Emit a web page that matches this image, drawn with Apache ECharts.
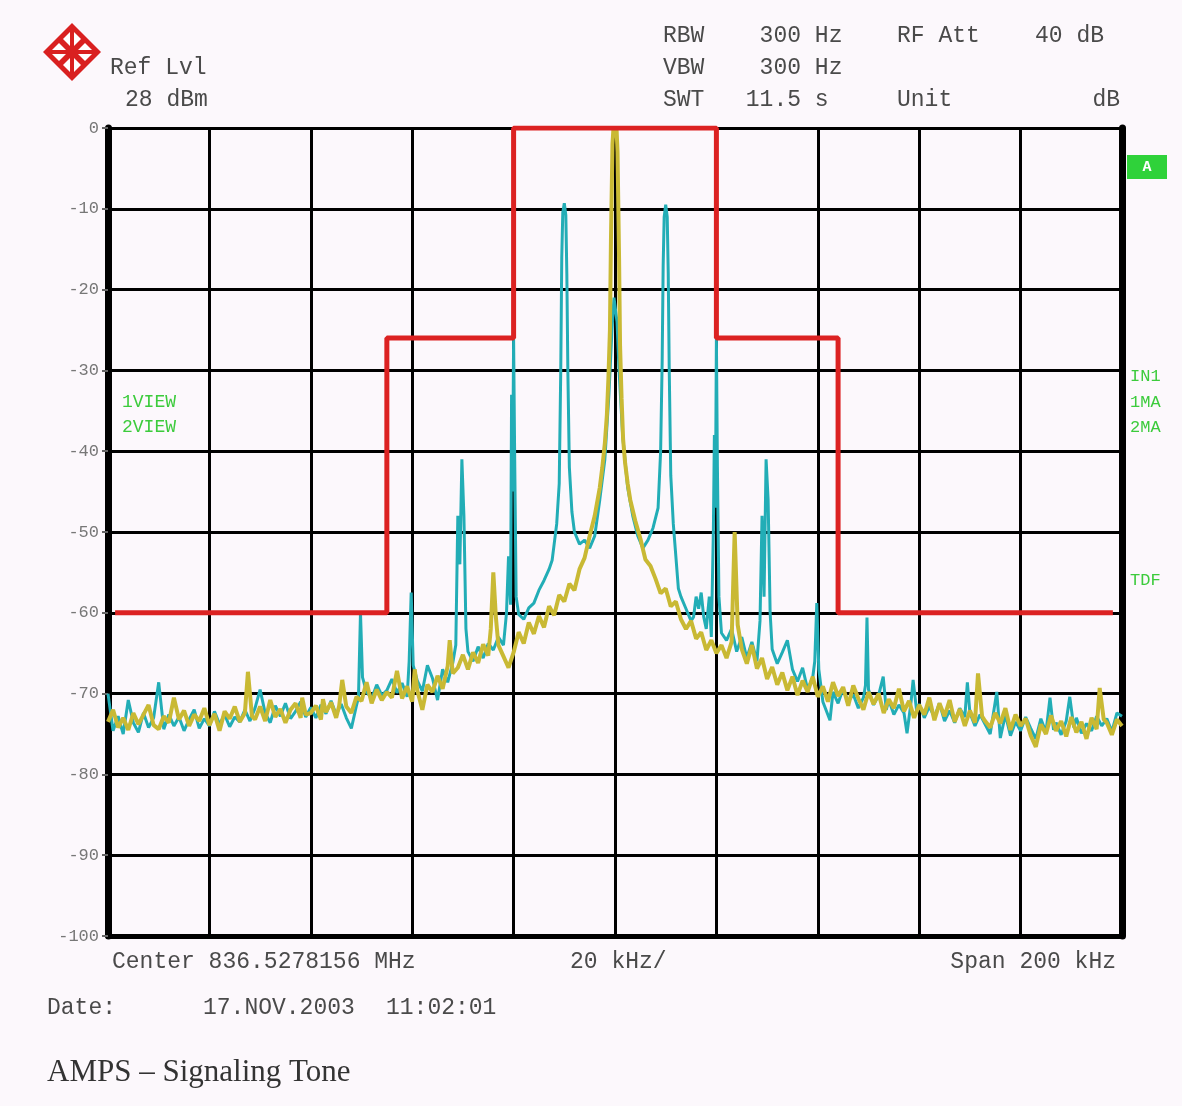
<!DOCTYPE html>
<html>
<head>
<meta charset="utf-8">
<title>AMPS – Signaling Tone</title>
<script src="https://cdn.jsdelivr.net/npm/echarts@6/dist/echarts.min.js"></script>
<style>
  html, body { margin: 0; padding: 0; background: #fcf8fc; }
  #chart { width: 1182px; height: 1106px; }
</style>
</head>
<body>
<div id="chart"></div>
<script>
// Frequency offset from center (kHz) vs. level (dB)

// Spectrum emission mask
const limitLine = [
  [-98.6, -60], [-45, -60], [-45, -26], [-20, -26], [-20, 0],
  [20, 0], [20, -26], [44, -26], [44, -60], [98.2, -60]
];

// Trace 1 (1VIEW)
const trace1 = [
  [-100,-70.0],[-99,-74.6],[-98,-72.8],[-97,-75.0],[-96,-70.8],[-95,-73.6],[-94,-74.8],[-93,-72.4],[-92,-74.2],[-91,-73.0],
  [-90,-68.6],[-89,-74.4],[-88,-72.6],[-87,-74.0],[-86,-72.9],[-85,-74.6],[-84,-73.2],[-83,-72.0],[-82,-74.3],[-81,-73.1],
  [-80,-74.0],[-79,-72.2],[-78,-73.8],[-77,-72.6],[-76,-74.1],[-75,-72.9],[-74,-73.5],[-73,-72.0],[-72,-73.4],[-71,-71.8],
  [-70,-69.5],[-69,-72.4],[-68,-73.6],[-67,-71.5],[-66,-72.8],[-65,-71.2],[-64,-73.1],[-63,-72.2],[-62,-71.0],[-61,-72.9],
  [-60,-71.7],[-59,-73.0],[-58,-71.4],[-57,-72.5],[-56,-70.9],[-55,-72.6],[-54,-71.3],[-53,-73.0],[-52,-74.3],[-51,-71.5],
  [-50.6,-70.5],[-50.2,-60.0],[-49.8,-68.0],[-49,-69.8],[-48,-70.6],[-47,-68.9],[-46,-70.2],[-45,-69.6],[-44,-68.2],[-43,-69.9],
  [-42,-68.7],[-41,-70.4],[-40.6,-66.0],[-40.2,-57.5],[-39.8,-66.5],[-39,-68.4],[-38,-69.7],[-37,-66.5],[-36,-68.1],[-35,-70.8],
  [-34,-67.0],[-33,-68.6],[-32,-66.2],[-31.4,-64.0],[-31.0,-48.0],[-30.6,-54.0],[-30.2,-41.0],[-29.8,-48.0],[-29.4,-62.0],[-29,-64.8],
  [-28,-66.0],[-27,-64.2],[-26,-65.6],[-25,-63.8],[-24,-64.6],[-23,-63.0],[-22,-64.0],[-21.4,-60.0],[-21.0,-53.0],[-20.6,-59.0],
  [-20.4,-33.0],[-20.2,-45.0],[-20.0,-26.0],[-19.8,-40.0],[-19.5,-58.0],[-19,-60.2],[-18,-60.8],[-17,-59.4],[-16,-58.8],[-15,-57.2],
  [-14,-56.0],[-13,-54.6],[-12.4,-53.5],[-12,-51.5],[-11.5,-49.0],[-11,-44.0],[-10.7,-30.0],[-10.5,-16.0],[-10.3,-10.5],[-10.0,-9.3],
  [-9.7,-10.8],[-9.5,-18.0],[-9.3,-30.0],[-9.0,-42.0],[-8.5,-47.5],[-8,-50.0],[-7,-51.5],[-6,-51.0],[-5,-52.0],[-4,-50.5],
  [-3,-46.0],[-2,-41.0],[-1.2,-33.0],[-0.6,-25.0],[-0.2,-21.0],[0,-21.0],[0.4,-24.0],[0.8,-30.0],[1.5,-38.0],[2.5,-44.5],
  [3.5,-48.0],[4.5,-50.5],[5.5,-52.0],[6.5,-51.0],[7.5,-49.5],[8.5,-47.0],[9.0,-40.0],[9.3,-29.0],[9.5,-17.0],[9.7,-11.0],
  [10.0,-9.5],[10.3,-11.0],[10.5,-18.0],[10.7,-30.0],[11.0,-43.0],[11.5,-49.0],[12,-53.0],[12.5,-57.0],[13,-58.0],[14,-59.5],
  [15,-61.0],[15.5,-60.5],[16,-58.0],[16.5,-59.5],[17,-57.5],[17.5,-60.5],[18,-62.0],[18.6,-58.0],[19.0,-63.0],[19.4,-50.0],
  [19.6,-38.0],[19.8,-47.0],[20.0,-26.0],[20.2,-42.0],[20.5,-58.0],[21,-62.5],[22,-63.4],[23,-62.0],[24,-64.8],[25,-63.0],
  [26,-65.6],[27,-63.6],[28,-66.0],[28.6,-61.0],[29.0,-48.0],[29.4,-58.0],[29.8,-41.0],[30.2,-46.0],[30.6,-60.0],[31,-64.5],
  [32,-66.3],[33,-64.9],[34,-63.4],[35,-67.0],[36,-68.5],[37,-66.8],[38,-69.5],[39,-68.0],[39.4,-66.0],[39.8,-58.8],
  [40.2,-67.0],[41,-71.0],[42.4,-73.3],[43,-69.8],[44,-71.2],[45,-69.4],[46,-71.0],[47,-70.1],[48,-71.8],[49,-70.5],
  [49.4,-69.0],[49.7,-60.6],[50.0,-69.5],[51,-71.4],[52,-70.2],[52.9,-67.9],[53.5,-72.0],[54,-70.8],[55,-72.6],[56,-71.4],
  [57,-72.4],[57.6,-74.9],[58.4,-71.0],[58.8,-68.3],[59.5,-72.2],[60,-71.3],[61,-73.0],[62,-71.6],[63,-72.9],[64,-71.2],
  [65,-73.4],[66,-72.1],[67,-73.6],[68,-71.8],[69,-72.9],[69.5,-68.6],[70,-72.4],[71,-74.0],[72,-72.6],[73,-73.8],
  [74,-75.0],[75.3,-69.8],[76,-75.5],[77,-72.6],[78,-75.2],[79,-73.5],[80,-74.6],[81,-72.9],[82,-74.3],[83,-75.6],
  [84,-73.1],[85,-74.8],[85.8,-70.5],[86.5,-74.5],[87,-73.6],[88,-75.1],[89,-73.4],[89.7,-70.4],[90.5,-74.2],[91,-73.0],
  [92,-74.9],[93,-73.7],[94,-74.6],[95,-72.8],[96,-74.0],[97,-73.1],[98,-74.7],[99,-72.4],[100,-72.8]
];

// Trace 2 (2VIEW)
const trace2 = [
  [-100,-73.5],[-99,-72.0],[-98,-74.2],[-97,-73.0],[-96,-74.5],[-95,-72.4],[-94,-73.8],[-93,-72.6],[-92,-71.4],[-91,-73.9],
  [-90,-74.4],[-89,-72.8],[-88,-73.6],[-87,-70.5],[-86,-73.2],[-85,-72.1],[-84,-74.0],[-83,-72.6],[-82,-73.4],[-81,-71.8],
  [-80,-73.9],[-79,-72.5],[-78,-74.6],[-77,-72.2],[-76,-73.1],[-75,-71.6],[-74,-73.5],[-73,-72.4],[-72.4,-67.3],[-71.6,-72.8],
  [-71,-73.2],[-70,-71.6],[-69,-73.4],[-68,-70.8],[-67,-72.9],[-66,-71.9],[-65,-73.6],[-64,-72.0],[-63,-71.2],[-62,-73.0],
  [-61.7,-70.5],[-61,-72.6],[-60,-72.4],[-59,-71.5],[-58,-73.2],[-57.6,-70.7],[-57,-72.3],[-56,-71.1],[-55,-73.0],[-54.4,-71.5],
  [-53.8,-68.3],[-53,-71.6],[-52,-72.4],[-51,-70.4],[-50,-70.9],[-49,-68.6],[-48,-71.2],[-47,-69.5],[-46,-70.8],[-45,-69.8],
  [-44,-70.5],[-43,-67.2],[-42,-70.6],[-41,-69.1],[-40,-71.0],[-39.5,-67.0],[-39,-69.6],[-38,-72.0],[-37,-68.9],[-36,-69.8],
  [-35,-67.8],[-34,-69.4],[-33,-66.6],[-32.6,-63.4],[-32,-67.5],[-31,-66.8],[-30,-65.2],[-29,-67.0],[-28,-64.9],[-27,-66.2],
  [-26,-63.9],[-25,-65.3],[-24.5,-62.0],[-24,-55.0],[-23.5,-60.5],[-23,-64.0],[-22,-65.4],[-21,-66.8],[-20,-64.9],[-19,-62.4],
  [-18,-63.8],[-17,-61.2],[-16,-62.6],[-15,-60.4],[-14,-61.8],[-13,-59.2],[-12,-60.3],[-11,-57.8],[-10,-58.6],[-9,-56.4],
  [-8,-57.2],[-7,-54.6],[-6,-53.2],[-5,-50.5],[-4,-48.0],[-3,-44.5],[-2.5,-42.0],[-2,-39.0],[-1.6,-35.5],[-1.3,-31.0],
  [-1.0,-25.0],[-0.8,-14.0],[-0.5,-2.0],[-0.3,0],[0,0],[0.3,0],[0.5,-3.0],[0.8,-16.0],[1.0,-27.0],[1.3,-33.5],
  [1.6,-38.5],[2,-41.5],[2.5,-44.0],[3,-46.0],[4,-48.6],[5,-50.8],[6,-53.4],[7,-54.2],[8,-55.8],[9,-57.6],
  [10,-57.0],[11,-59.2],[12,-58.6],[13,-60.8],[14,-62.0],[15,-61.0],[16,-63.2],[17,-62.4],[18,-64.6],[19,-63.4],
  [20,-65.0],[21,-64.0],[22,-65.6],[23,-63.6],[23.6,-50.0],[24.2,-61.5],[25,-64.5],[26,-66.3],[27,-64.0],[28,-66.9],
  [29,-65.6],[30,-68.2],[31,-66.7],[32,-68.9],[33,-67.4],[34,-69.6],[35,-67.9],[36,-70.2],[37,-68.4],[38,-69.8],
  [39,-67.9],[40,-70.4],[41,-69.1],[42,-71.0],[43,-68.6],[44,-70.3],[45,-69.2],[46,-71.5],[47,-69.0],[48,-70.6],
  [49,-72.0],[50,-69.8],[51,-71.3],[52,-70.0],[53,-72.4],[54,-70.7],[55,-71.8],[56,-69.4],[57,-72.2],[58,-70.9],
  [59,-73.0],[60,-71.4],[61,-72.6],[62,-70.5],[63,-73.3],[64,-71.2],[65,-72.8],[66,-70.8],[67,-73.5],[68,-71.9],
  [69,-74.0],[70,-72.1],[71,-73.6],[71.6,-67.5],[72.4,-72.8],[73,-73.4],[74,-74.2],[75,-72.4],[76,-73.7],[77,-71.8],
  [78,-74.5],[79,-72.6],[80,-74.0],[81,-73.1],[82,-75.2],[83,-76.6],[84,-73.8],[85,-75.0],[86,-72.7],[87,-74.6],
  [88,-73.4],[89,-75.3],[90,-72.9],[91,-74.8],[92,-73.5],[93,-75.6],[94,-73.0],[95,-74.4],[95.6,-69.3],[96.4,-73.2],
  [97,-73.6],[98,-75.1],[99,-73.2],[100,-74.0]
];

// Instrument settings shown around the display
const headerRows = [
  ['RBW    300 Hz', 'RF Att    40 dB'],
  ['VBW    300 Hz', ''],
  ['SWT   11.5 s', 'Unit']
];
const footerLabels = ['Center 836.5278156 MHz', '20 kHz/', 'Span 200 kHz'];
const dateLabel = ['Date:', '17.NOV.2003', '11:02:01'];
const traceLabels = ['1VIEW', '2VIEW'];
const sideLabels = ['IN1', '1MA', '2MA', 'TDF'];
const chartTitle = 'AMPS \u2013 Signaling Tone';

const MONO = '"Liberation Mono", "DejaVu Sans Mono", monospace';
const TXT = '#4a4a4a';
const GREEN = '#3ccb3c';

function txt(text, x, y, opts) {
  opts = opts || {};
  return {
    type: 'text', silent: true, z: 100,
    style: {
      text: text, x: x, y: y,
      font: opts.font || ('23px ' + MONO),
      fill: opts.fill || TXT,
      align: opts.align || 'left', verticalAlign: 'middle',
      textAlign: opts.align || 'left', textVerticalAlign: 'middle'
    }
  };
}

const graphics = [
  // Logo: red diamond with white quadrants
  { type: 'polygon', silent: true, shape: { points: [[72, 23], [101, 52], [72, 81], [43, 52]] },
    style: { fill: '#d92020' } },
  { type: 'polygon', silent: true, shape: { points: [[72, 30], [81, 39], [72, 48], [63, 39]] }, style: { fill: '#fff' } },
  { type: 'polygon', silent: true, shape: { points: [[72, 56], [81, 65], [72, 74], [63, 65]] }, style: { fill: '#fff' } },
  { type: 'polygon', silent: true, shape: { points: [[59, 43], [68, 52], [59, 61], [50, 52]] }, style: { fill: '#fff' } },
  { type: 'polygon', silent: true, shape: { points: [[85, 43], [94, 52], [85, 61], [76, 52]] }, style: { fill: '#fff' } },
  { type: 'rect', silent: true, shape: { x: 70, y: 28, width: 4, height: 48 }, style: { fill: '#d92020' } },
  { type: 'rect', silent: true, shape: { x: 48, y: 50, width: 48, height: 4 }, style: { fill: '#d92020' } },

  txt('Ref Lvl', 110, 68),
  txt('28 dBm', 125, 100),

  txt(headerRows[0][0], 663, 36),
  txt(headerRows[0][1], 897, 36),
  txt(headerRows[1][0], 663, 68),
  txt(headerRows[2][0], 663, 100),
  txt(headerRows[2][1], 897, 100),
  txt('dB', 1120, 100, { align: 'right' }),

  txt(footerLabels[0], 112, 962),
  txt(footerLabels[1], 570, 962),
  txt(footerLabels[2], 1116, 962, { align: 'right' }),

  txt(dateLabel[0], 47, 1008),
  txt(dateLabel[1], 203, 1008),
  txt(dateLabel[2], 386, 1008),

  txt(chartTitle, 47, 1073, { font: '31px "Liberation Serif", "DejaVu Serif", serif', fill: '#333' }),

  txt(traceLabels[0], 122, 402, { font: '18px ' + MONO, fill: GREEN }),
  txt(traceLabels[1], 122, 427, { font: '18px ' + MONO, fill: GREEN }),

  { type: 'rect', silent: true, z: 99, shape: { x: 1127, y: 155, width: 40, height: 24 }, style: { fill: '#2fd23a' } },
  txt('A', 1147, 167, { font: 'bold 15px ' + MONO, fill: '#ffffff', align: 'center' }),

  txt(sideLabels[0], 1130, 376, { font: '17px ' + MONO, fill: GREEN }),
  txt(sideLabels[1], 1130, 402, { font: '17px ' + MONO, fill: GREEN }),
  txt(sideLabels[2], 1130, 427, { font: '17px ' + MONO, fill: GREEN }),
  txt(sideLabels[3], 1130, 580, { font: '17px ' + MONO, fill: GREEN })
];

const chart = echarts.init(document.getElementById('chart'), null, { renderer: 'canvas' });

chart.setOption({
  animation: false,
  backgroundColor: '#fcf8fc',
  grid: { left: 108, right: 60, top: 128, bottom: 170, containLabel: false },
  xAxis: {
    type: 'value', min: -100, max: 100, interval: 20,
    axisLabel: { show: false },
    axisTick: { show: false },
    axisLine: { show: true, onZero: false, lineStyle: { color: '#000', width: 5 } },
    splitLine: { show: true, lineStyle: { color: '#000', width: 3 } }
  },
  yAxis: [
    {
      type: 'value', min: -100, max: 0, interval: 10,
      axisLine: { show: true, onZero: false, lineStyle: { color: '#000', width: 7 } },
      axisTick: { show: true, length: 6, lineStyle: { color: '#666', width: 2 } },
      axisLabel: { color: '#777', fontFamily: MONO, fontSize: 17, margin: 9 },
      splitLine: { show: true, lineStyle: { color: '#000', width: 3 } }
    },
    {
      type: 'value', min: -100, max: 0, interval: 10, position: 'right',
      axisLine: { show: true, onZero: false, lineStyle: { color: '#000', width: 7 } },
      axisTick: { show: false }, axisLabel: { show: false }, splitLine: { show: false }
    }
  ],
  series: [
    {
      name: '1VIEW', type: 'line', data: trace1, showSymbol: false, z: 3,
      lineStyle: { color: '#22adb6', width: 3 }
    },
    {
      name: '2VIEW', type: 'line', data: trace2, showSymbol: false, z: 4,
      lineStyle: { color: '#c9b934', width: 4 }
    },
    {
      name: 'Limit', type: 'line', data: limitLine, showSymbol: false, z: 5,
      lineStyle: { color: '#dc2222', width: 5 }
    }
  ],
  graphic: graphics
});
</script>
</body>
</html>
